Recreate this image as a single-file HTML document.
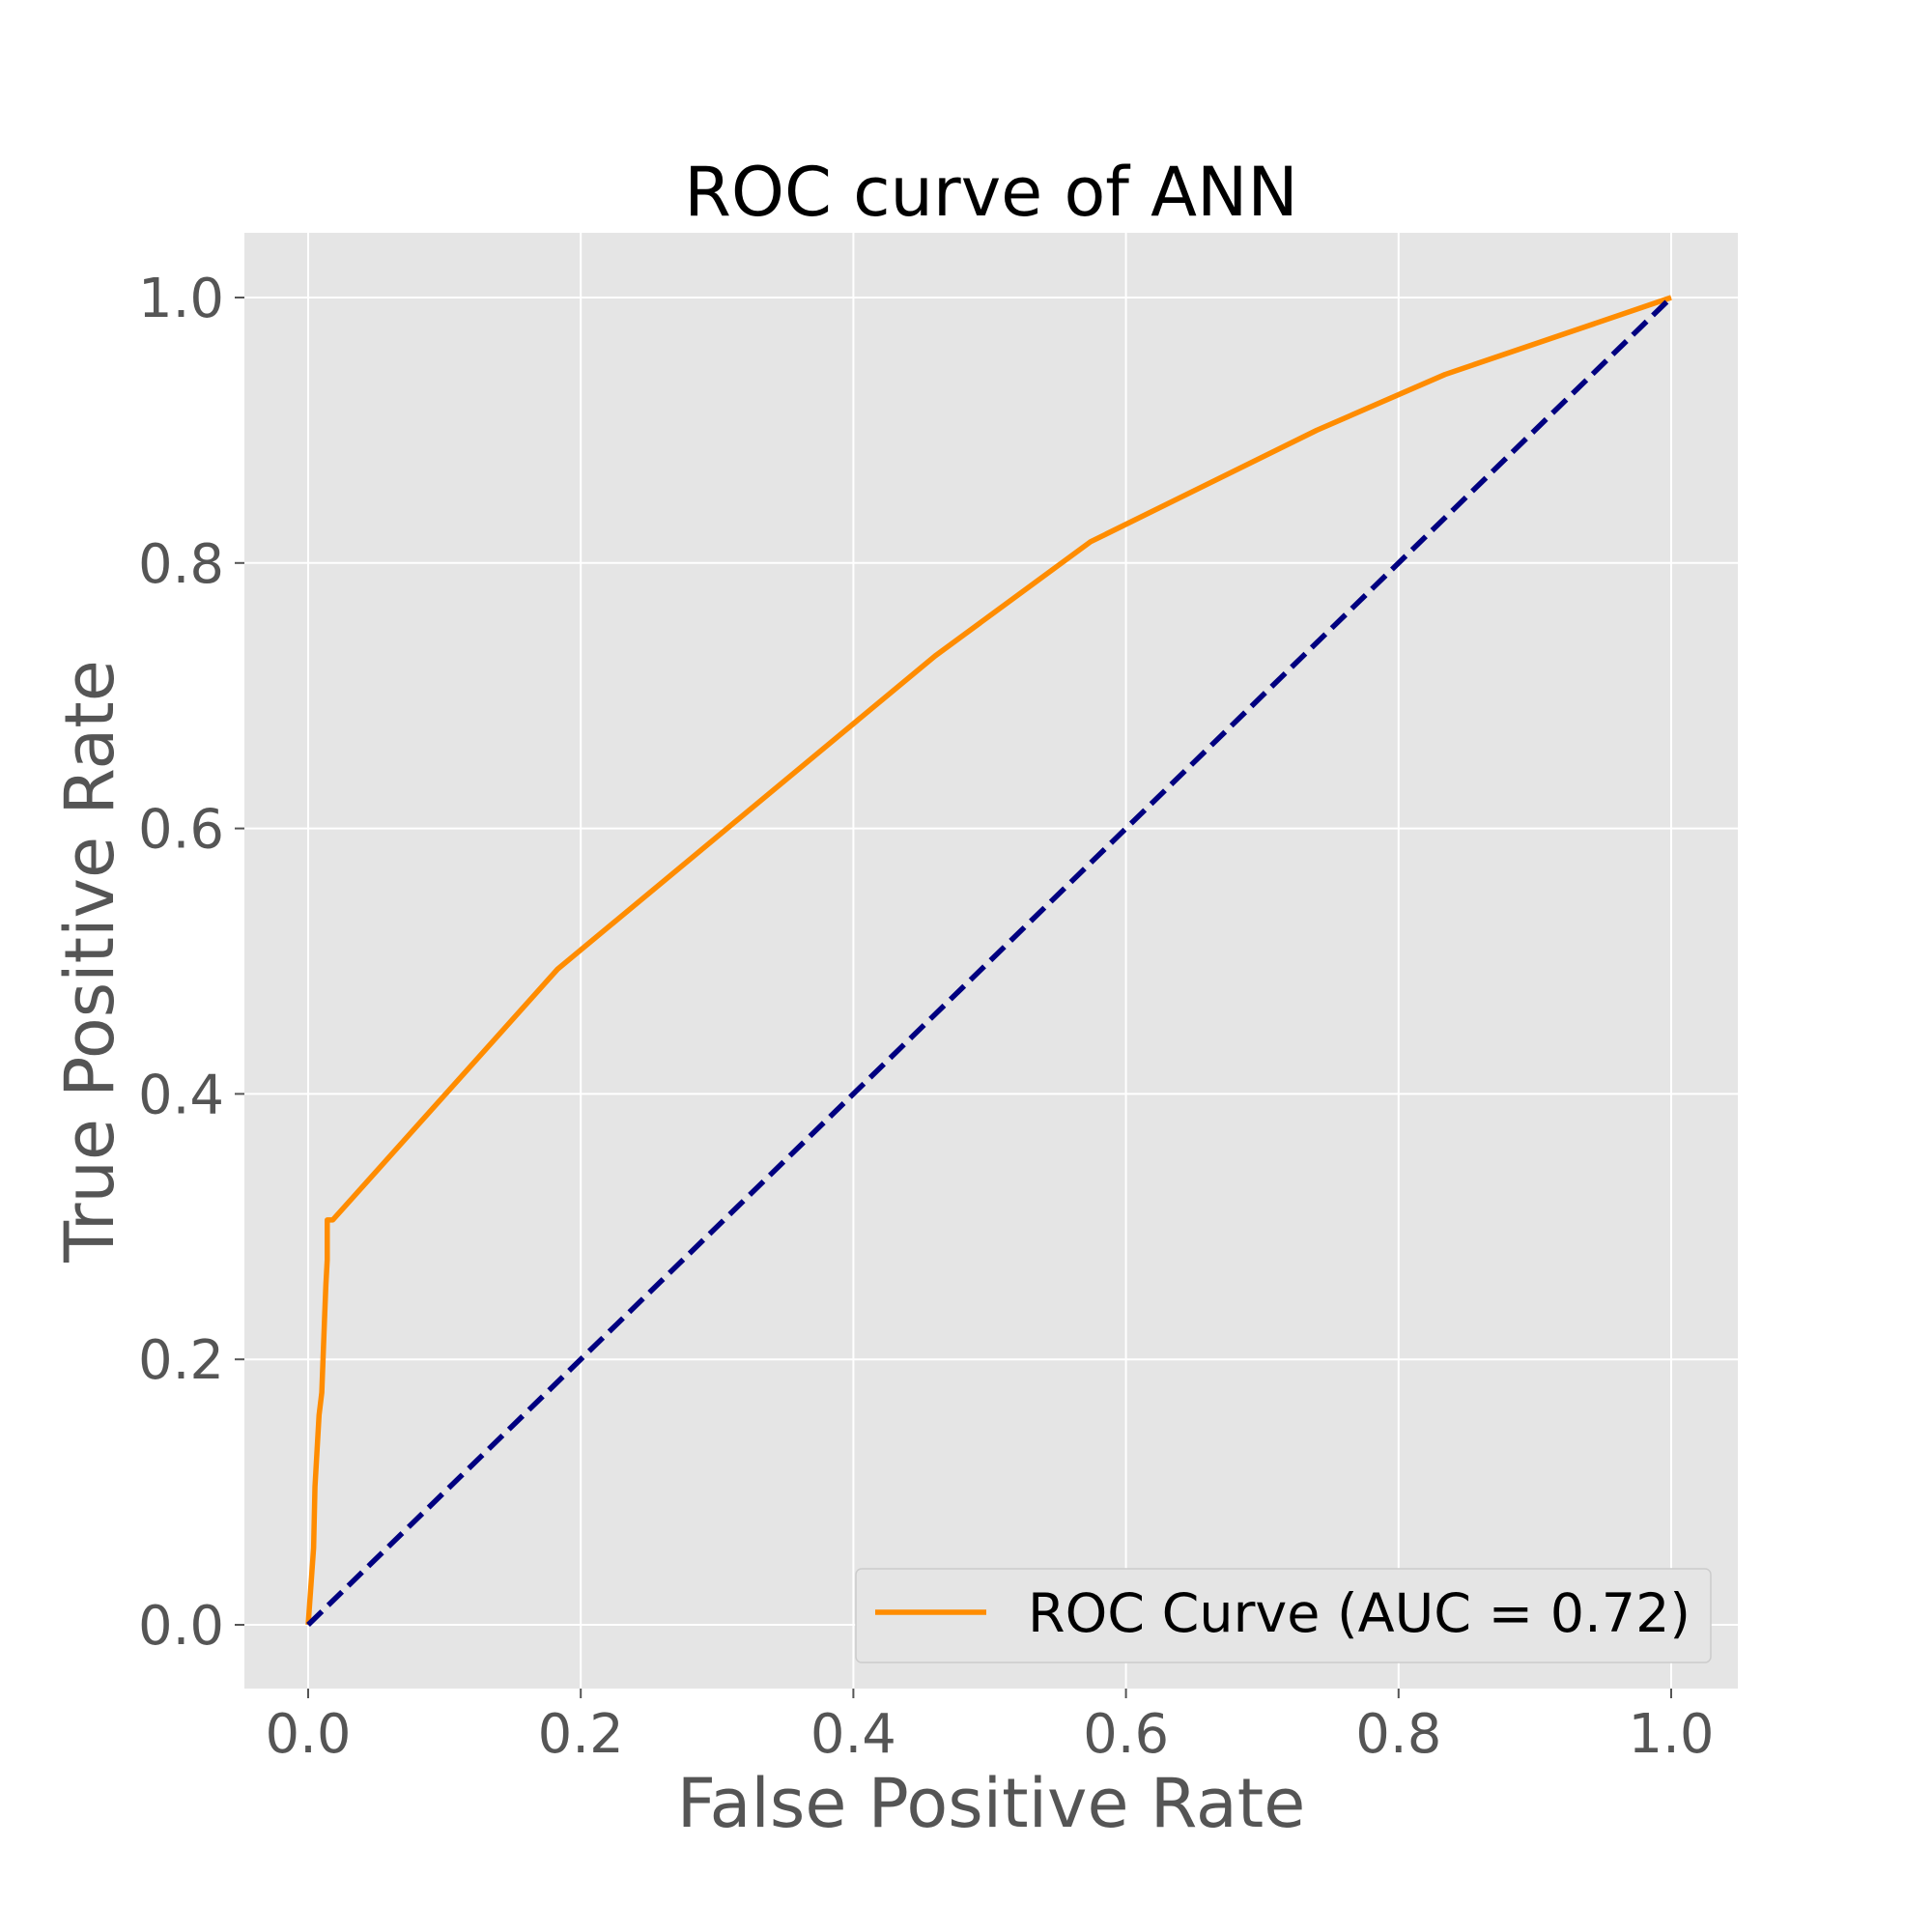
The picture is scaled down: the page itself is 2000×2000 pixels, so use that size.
<!DOCTYPE html>
<html><head><meta charset="utf-8"><style>body{margin:0;background:#fff}svg{display:block}</style></head>
<body>
<svg id="chart" width="2000" height="2000" viewBox="0 0 2000 2000" font-family="DejaVu Sans, Liberation Sans, sans-serif">
<text x="1026" y="223" font-size="70" text-anchor="middle" fill="#000">ROC curve of ANN</text>
<rect x="253" y="241" width="1546" height="1507" fill="#e5e5e5"/>
<g id="grid"></g><g id="ticks"></g><g id="series"></g>
<text x="1026" y="1891" font-size="70" text-anchor="middle" fill="#555">False Positive Rate</text>
<text transform="translate(117,995) rotate(-90)" font-size="70" text-anchor="middle" fill="#555">True Positive Rate</text>
<g>
<rect x="886" y="1624" width="885" height="97" rx="6" fill="#e5e5e5" stroke="#ccc" stroke-width="1.5"/>
<line x1="906" y1="1669" x2="1021" y2="1669" stroke="#ff8c00" stroke-width="5.5"/>
<text x="1064" y="1689" font-size="55.5" fill="#000">ROC Curve (AUC = 0.72)</text>
</g>
</svg>
<script>
const fprValues=[0,0.004,0.005,0.008,0.01,0.012,0.013,0.014,0.014,0.018,0.183,0.46,0.574,0.74,0.834,1];
const tprValues=[0,0.058,0.104,0.158,0.175,0.23,0.256,0.275,0.305,0.305,0.494,0.73,0.816,0.90,0.942,1];
const chanceX=[0,1];
const chanceY=[0,1];
const tickValues=[0,0.2,0.4,0.6,0.8,1.0];
const tickLabels=["0.0","0.2","0.4","0.6","0.8","1.0"];
const NS="http://www.w3.org/2000/svg";
const sx=v=>319+v*(1730-319);
const sy=v=>1682-v*(1682-308);
function mk(tag,attrs,parent){const e=document.createElementNS(NS,tag);for(const k in attrs)e.setAttribute(k,attrs[k]);parent.appendChild(e);return e;}
const grid=document.getElementById('grid'),ticks=document.getElementById('ticks'),series=document.getElementById('series');
tickValues.forEach((v,i)=>{
  let g=mk('line',{x1:sx(v),x2:sx(v),y1:241,y2:1748,stroke:'#fff','stroke-width':2},grid);
  
  
  g=mk('line',{x1:253,x2:1799,y1:sy(v),y2:sy(v),stroke:'#fff','stroke-width':2},grid);
  
  
  let t=mk('line',{x1:sx(v),x2:sx(v),y1:1748,y2:1758,stroke:'#555','stroke-width':2},ticks);
  
  
  t=mk('line',{x1:243,x2:253,y1:sy(v),y2:sy(v),stroke:'#555','stroke-width':2},ticks);
  
  
  let l=mk('text',{x:sx(v),y:1814,'font-size':56,'text-anchor':'middle',fill:'#555'},ticks);
  l.textContent=tickLabels[i];
  
  
  l=mk('text',{x:232,y:sy(v)+20,'font-size':56,'text-anchor':'end',fill:'#555'},ticks);
  l.textContent=tickLabels[i];
  
  
});
let d=fprValues.map((v,i)=>(i?'L':'M')+sx(v)+','+sy(tprValues[i])).join(' ');
let roc=mk('path',{d:d,fill:'none',stroke:'#ff8c00','stroke-width':5.5,'stroke-linejoin':'round'},series);


d=chanceX.map((v,i)=>(i?'L':'M')+sx(v)+','+sy(chanceY[i])).join(' ');
let ch=mk('path',{d:d,fill:'none',stroke:'#000080','stroke-width':5.5,'stroke-dasharray':'20,9'},series);


</script>
</body></html>
